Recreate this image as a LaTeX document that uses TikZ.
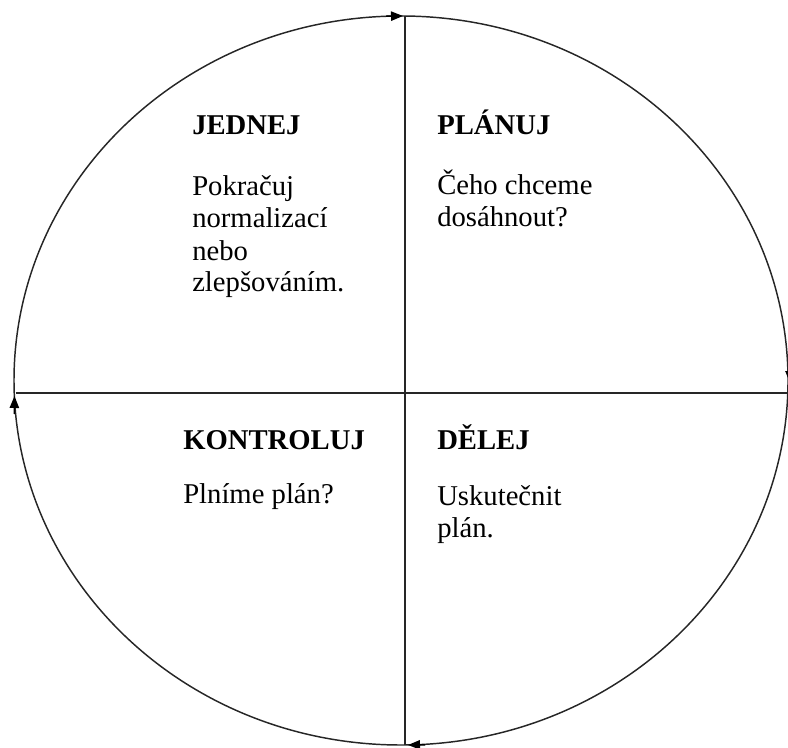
\documentclass[tikz,border=0pt]{standalone}
\usepackage{fontspec}
\setmainfont{Liberation Serif}
\usetikzlibrary{arrows.meta}
\begin{document}
\begin{tikzpicture}[x=0.75pt,y=-0.75pt,
  line/.style={line width=1.1pt,black!85},
  head/.style={anchor=base west,inner sep=0pt,font=\fontsize{21.5}{24}\selectfont\bfseries},
  body/.style={anchor=base west,inner sep=0pt,align=left,font=\fontsize{21.5}{24}\selectfont},
  tip/.style={line width=1.1pt,-{Triangle[length=9pt,width=7pt]}}]
\useasboundingbox (0,0) rectangle (788,748);
\draw[line] (401,380.5) ellipse [x radius=387, y radius=364.5];
\coordinate (vt) at (405,16);
\coordinate (vb) at (405,745);
\coordinate (hl) at (15.5,393);
\coordinate (hr) at (788,393);
\draw[line] (vt) -- (vb);
\draw[line] (hl) -- (hr);
% arrowheads
\coordinate (a1s) at (386,16.2);
\coordinate (a1e) at (403,16);
\draw[tip] (a1s) -- (a1e);
\coordinate (a2s) at (425,744.8);
\coordinate (a2e) at (408,745);
\draw[tip] (a2s) -- (a2e);
\coordinate (a3s) at (14.3,414);
\coordinate (a3e) at (14.5,396);
\draw[tip] (a3s) -- (a3e);
\coordinate (a4s) at (790,366);
\coordinate (a4e) at (790,383);
\draw[tip] (a4s) -- (a4e);
% texts (body nodes placed by the baseline of their last line)
\node[head] (h1) at (192,135) {JEDNEJ};
\node[body] (t1) at (192,292) {Pokračuj\\normalizací\\nebo\\zlepšováním.};
\node[head] (h2) at (437,135) {PLÁNUJ};
\node[body] (t2) at (437,227) {Čeho chceme\\dosáhnout?};
\node[head] (h3) at (183,449) {KONTROLUJ};
\node[body] (t3) at (183,503) {Plníme plán?};
\node[head] (h4) at (437,449) {DĚLEJ};
\node[body] (t4) at (437,537) {Uskutečnit\\plán.};
\end{tikzpicture}
\end{document}
